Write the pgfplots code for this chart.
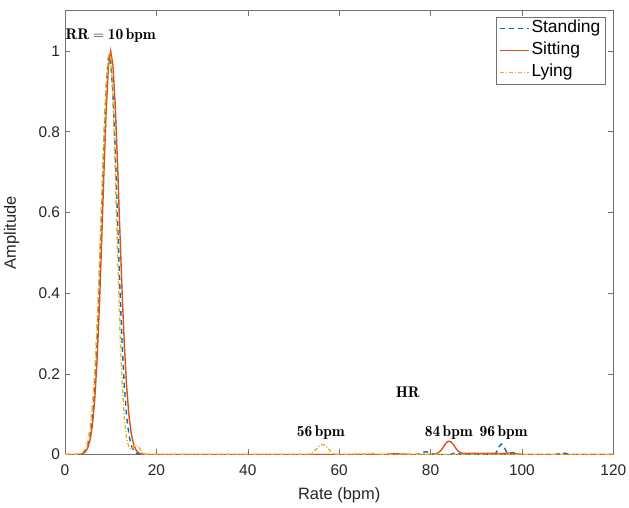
\documentclass[border=0pt]{standalone}
\usepackage{fontspec}
\usepackage{pgfplots}
\usepackage{pgfplotstable}
\pgfplotsset{compat=1.18}
\newfontfamily\helv{Liberation Sans}
\definecolor{mblue}{rgb}{0,0.447,0.741}
\definecolor{mred}{rgb}{0.85,0.325,0.098}
\definecolor{myellow}{rgb}{0.929,0.694,0.125}

% Standing
\pgfplotstableread{
x y
0 0
2 0
3 0.0003
3.5 0.0013
4 0.0036
4.5 0.0092
5 0.0217
5.5 0.0468
6 0.0927
6.5 0.168
7 0.280
7.5 0.429
8 0.601
8.5 0.772
9 0.910
9.5 0.983
9.7 0.990
10 0.975
10.5 0.892
11 0.751
11.5 0.583
12 0.418
12.5 0.275
13 0.167
13.5 0.094
14 0.048
14.5 0.023
15 0.010
15.5 0.004
16 0.0015
17 0
77 0
78 0.004
79 0.007
80 0.003
81 0
84.5 0
85 0.003
85.5 0.004
86 0.002
87 0
94 0
94.5 0.007
95 0.019
95.5 0.026
96 0.021
96.5 0.009
97 0.002
97.5 0.003
98 0.005
98.5 0.003
99 0
107.5 0
108.5 0.004
109.5 0.003
110.5 0
120 0
}\standing

% Sitting
\pgfplotstableread{
x y
0 0
3 0
3.5 0.001
4 0.0028
4.5 0.0072
5 0.0169
5.5 0.0367
6 0.0734
6.5 0.135
7 0.230
7.5 0.360
8 0.520
8.5 0.693
9 0.849
9.5 0.960
10 1.0
10.5 0.964
11 0.864
11.5 0.720
12 0.557
12.5 0.401
13 0.269
13.5 0.167
14 0.0966
14.5 0.0519
15 0.0259
15.5 0.012
16 0.0052
16.5 0.0021
17 0.0008
18 0
70 0
72 0.002
74 0.001
76 0
80 0
81 0.001
81.5 0.003
82 0.007
82.5 0.013
83 0.022
83.5 0.030
84 0.033
84.5 0.031
85 0.025
85.5 0.016
86 0.009
86.5 0.005
87 0.003
90 0.003
93 0.003
95 0.002
96.5 0.003
97.5 0.004
98.5 0.002
100 0
120 0
}\sitting

% Lying
\pgfplotstableread{
x y
0 0
2 0
2.5 0.0004
3 0.0012
3.5 0.003
4 0.0073
4.5 0.0165
5 0.0345
5.5 0.0671
6 0.121
6.5 0.204
7 0.318
7.5 0.462
8 0.623
8.5 0.781
9 0.911
9.5 0.987
9.8 0.995
10 0.985
10.5 0.886
11 0.706
11.5 0.500
12 0.314
12.5 0.176
13 0.088
13.5 0.039
14 0.018
14.5 0.013
15 0.019
15.5 0.024
16 0.021
16.5 0.012
17 0.004
17.5 0.001
18 0
53 0
53.5 0.001
54 0.003
54.5 0.007
55 0.013
55.5 0.019
56 0.024
56.5 0.025
57 0.022
57.5 0.016
58 0.009
58.5 0.004
59 0.0015
59.5 0
63 0
64 0.002
65.5 0.001
67 0.003
68 0.001
69 0
120 0
}\lying

\begin{document}
\begin{tikzpicture}
\begin{axis}[
  scale only axis,
  width=548.3bp, height=443.8bp,
  xmin=0, xmax=120, ymin=0, ymax=1.1,
  xtick={0,20,...,120},
  ytick={0,0.2,0.4,0.6,0.8,1},
  yticklabels={0,0.2,0.4,0.6,0.8,1},
  axis line style={black!55, line width=0.5pt},
  tick style={black!55, line width=0.5pt},
  tick align=inside,
  major tick length=5bp,
  /pgf/number format/assume math mode=true,
  ticklabel style={font=\helv\fontsize{15.5}{18}\selectfont, text=black!85},
  xticklabel style={yshift=-6.5bp},
  yticklabel style={xshift=-1.5bp},
  xlabel={Rate (bpm)},
  ylabel={Amplitude},
  label style={font=\helv\fontsize{16.5}{19}\selectfont, text=black!85},
  xlabel style={at={(axis description cs:0.5,-0.0913)}, anchor=center},
  ylabel style={at={(axis description cs:-0.0972,0.5)}, anchor=center},
  legend style={at={(rel axis cs:0.985,0.9865)}, anchor=north east,
    draw=black!55, line width=0.5pt, fill=white,
    font=\helv\fontsize{17.5}{20}\selectfont,
    row sep=3bp, inner xsep=3bp, inner ysep=2bp,
    nodes={inner sep=1.5bp, text height=12.5bp, text depth=3.5bp}},
  legend cell align=left,
  legend image code/.code={\draw[#1] (0bp,0bp) -- (29bp,0bp);},
  clip=true,
]
\addplot[mblue, line width=1.4pt, dash pattern=on 5bp off 4bp] table {\standing};
\addlegendentry{Standing}
\addplot[mred, line width=1.4pt] table {\sitting};
\addlegendentry{Sitting}
\addplot[myellow, line width=1.4pt, dash pattern=on 4bp off 2bp on 1bp off 2bp] table {\lying};
\addlegendentry{Lying}

\node[font=\fontsize{15.5}{18}\selectfont] at (axis cs:10,1.037) {$\mathbf{RR}=\mathbf{10\,bpm}$};
\node[font=\fontsize{15.5}{18}\selectfont] at (axis cs:75,0.155) {$\mathbf{HR}$};
\node[font=\fontsize{15.5}{18}\selectfont] at (axis cs:56,0.053) {$\mathbf{56\,bpm}$};
\node[font=\fontsize{15.5}{18}\selectfont] at (axis cs:84,0.053) {$\mathbf{84\,bpm}$};
\node[font=\fontsize{15.5}{18}\selectfont] at (axis cs:96,0.053) {$\mathbf{96\,bpm}$};
\end{axis}
\pgfresetboundingbox
\path ([shift={(-65bp,-53.5bp)}]current axis.south west) rectangle ([shift={(15.7bp,10.7bp)}]current axis.north east);
\end{tikzpicture}
\end{document}
